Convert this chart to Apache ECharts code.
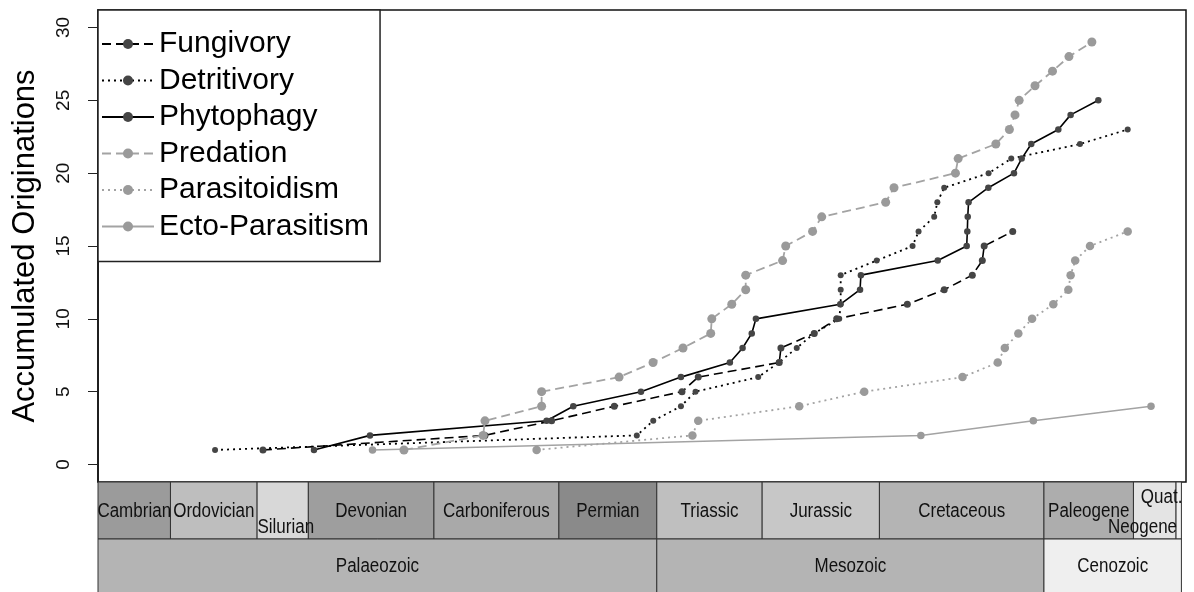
<!DOCTYPE html>
<html>
<head>
<meta charset="utf-8">
<script src="https://cdn.jsdelivr.net/npm/echarts@6/dist/echarts.min.js"></script>
<style>
  html, body { margin: 0; padding: 0; background: #fff; }
  #chart { width: 1194px; height: 592px; }
</style>
</head>
<body>
<div id="chart"></div>
<script>
// Ages (Ma) at which each guild's accumulated count steps up, with the count reached.
const fungivoryAge = [441.0, 334.4, 302.4, 272.3, 239.8, 232.0, 193.1, 192.3, 176.3, 165.5, 131.6, 113.9, 100.4, 95.6, 94.7, 81.0];
const fungivoryCount = [1, 2, 3, 4, 5, 6, 7, 8, 9, 10, 11, 12, 13, 14, 15, 16];

const detritivoryAge = [464.0, 261.5, 253.6, 240.3, 233.3, 203.2, 193.3, 184.7, 176.4, 164.3, 163.6, 163.6, 163.6, 146.3, 129.1, 126.2, 118.7, 117.2, 113.9, 92.6, 81.7, 48.7, 25.8];
const detritivoryCount = [1, 2, 3, 4, 5, 6, 7, 8, 9, 10, 11, 12, 13, 14, 15, 16, 17, 18, 19, 20, 21, 22, 23];

const phytophagyAge = [416.5, 389.6, 304.8, 292.0, 259.5, 240.3, 216.8, 210.7, 206.3, 204.3, 163.8, 154.3, 153.9, 117.0, 103.1, 102.8, 102.6, 102.2, 92.7, 80.4, 76.7, 72.1, 59.1, 53.2, 39.9];
const phytophagyCount = [1, 2, 3, 4, 5, 6, 7, 8, 9, 10, 11, 12, 13, 14, 15, 16, 17, 18, 19, 20, 21, 22, 23, 24, 25];

const predationAge = [373.3, 335.3, 334.4, 307.2, 307.2, 270.0, 253.7, 239.3, 226.0, 225.5, 215.9, 209.2, 209.2, 191.5, 190.0, 177.1, 172.7, 142.0, 138.0, 108.5, 107.2, 89.1, 82.6, 79.9, 77.9, 70.3, 61.9, 54.0, 43.0];
const predationCount = [1, 2, 3, 4, 5, 6, 7, 8, 9, 10, 11, 12, 13, 14, 15, 16, 17, 18, 19, 20, 21, 22, 23, 24, 25, 26, 27, 28, 29];

const parasitoidismAge = [309.6, 234.8, 232.0, 183.5, 152.3, 105.1, 88.2, 84.8, 78.3, 71.7, 61.5, 54.3, 53.2, 51.0, 43.9, 25.8];
const parasitoidismCount = [1, 2, 3, 4, 5, 6, 7, 8, 9, 10, 11, 12, 13, 14, 15, 16];

const ectoParasitismAge = [388.4, 125.1, 71.1, 14.6];
const ectoParasitismCount = [1, 2, 3, 4];

// Geological time scale (Ma)
const periodNames = ['Cambrian', 'Ordovician', 'Silurian', 'Devonian', 'Carboniferous', 'Permian', 'Triassic', 'Jurassic', 'Cretaceous', 'Paleogene', 'Neogene', 'Quat.'];
const periodStart = [541, 485.4, 443.8, 419.2, 358.9, 298.9, 251.9, 201.3, 145, 66, 23.03, 2.58];
const periodEnd = [485.4, 443.8, 419.2, 358.9, 298.9, 251.9, 201.3, 145, 66, 23.03, 2.58, 0];
const eraNames = ['Palaeozoic', 'Mesozoic', 'Cenozoic'];
const eraStart = [541, 251.9, 66];
const eraEnd = [251.9, 66, 0];

const yTicks = [0, 5, 10, 15, 20, 25, 30];

// ---- styling ----
const periodFill = ['#9b9b9b', '#bebebe', '#d8d8d8', '#9e9e9e', '#a9a9a9', '#8a8a8a', '#bfbfbf', '#c7c7c7', '#b4b4b4', '#adadad', '#e4e4e4', '#f0f0f0'];
const eraFill = ['#b4b4b4', '#b4b4b4', '#efefef'];
const labelShift = {
  'Silurian': { dy: 16, dx: 3 },
  'Neogene': { dy: 16, align: 'right' },
  'Quat.': { dy: -14, align: 'right' }
};
const PERIOD_ROW = 57;
const ERA_ROW = 60;
const scaleFont = '20px "Liberation Sans", Arial, sans-serif';
const SCALE_SQUEEZE = 0.85;

const DARK_LINE = '#000';
const DARK_PT = '#454545';
const LIGHT_LINE = '#a3a3a3';
const LIGHT_PT = '#9a9a9a';

function pairs(ages, counts) {
  return ages.map((a, i) => [a, counts[i]]);
}

function guild(name, ages, counts, line, pt, lineType, width, size) {
  return {
    name: name,
    type: 'line',
    data: pairs(ages, counts),
    symbol: 'circle',
    symbolSize: size,
    showAllSymbol: true,
    itemStyle: { color: pt },
    lineStyle: { color: line, width: width, type: lineType },
    emphasis: { disabled: true },
    z: 3
  };
}

// timescale bands: periods (row 0) then eras (row 1)
const bandNames = periodNames.concat(eraNames);
const bandFill = periodFill.concat(eraFill);
const bandData = periodStart.map((s, i) => [s, periodEnd[i], 0])
  .concat(eraStart.map((s, i) => [s, eraEnd[i], 1]));

function renderBand(params, api) {
  const cs = params.coordSys;
  const i = params.dataIndex;
  const row = api.value(2);
  const xa = api.coord([api.value(0), 0])[0];
  const xb = api.coord([api.value(1), 0])[0];
  const left = Math.max(Math.min(xa, xb), cs.x);
  const right = Math.min(Math.max(xa, xb), cs.x + cs.width);
  const top = cs.y + cs.height + (row === 0 ? 0 : PERIOD_ROW);
  const h = row === 0 ? PERIOD_ROW : ERA_ROW;
  const name = bandNames[i];
  const tweak = labelShift[name] || {};
  const align = tweak.align || 'center';
  const tx = (align === 'right' ? right + 1 : (left + right) / 2) + (tweak.dx || 0);
  const ty = top + (row === 0 ? 29 : 27) + (tweak.dy || 0);
  return {
    type: 'group',
    children: [
      {
        type: 'rect',
        shape: { x: left, y: top, width: right - left, height: h },
        style: { fill: bandFill[i], stroke: '#333', lineWidth: 1 }
      },
      {
        type: 'text',
        z2: 10,
        x: tx, y: ty,
        scaleX: SCALE_SQUEEZE,
        style: {
          text: name, x: 0, y: 0, align: align, verticalAlign: 'middle',
          font: scaleFont, fill: '#111'
        }
      }
    ]
  };
}

const chart = echarts.init(document.getElementById('chart'), null, { renderer: 'canvas' });

chart.setOption({
  animation: false,
  backgroundColor: '#fff',
  textStyle: { fontFamily: '"Liberation Sans", Arial, sans-serif' },
  grid: {
    left: 98, right: 8, top: 10, bottom: 110,
    outerBoundsMode: 'none',
    containLabel: false,
    show: true, borderColor: '#111', borderWidth: 1.5, backgroundColor: '#fff'
  },
  legend: {
    orient: 'vertical',
    left: 98, top: 10,
    backgroundColor: '#fff',
    borderColor: '#222', borderWidth: 1.5, borderRadius: 0,
    padding: [19, 11, 20, 3],
    itemGap: 6.5,
    itemWidth: 52,
    itemHeight: 12.5,
    selectedMode: false,
    textStyle: { fontSize: 30, color: '#000', lineHeight: 30, fontFamily: '"Liberation Sans", Arial, sans-serif' },
    data: ['Fungivory', 'Detritivory', 'Phytophagy', 'Predation', 'Parasitoidism', 'Ecto-Parasitism'],
    z: 20
  },
  xAxis: {
    type: 'value',
    inverse: true,
    min: -2.2,
    max: 520.2,
    axisLine: { show: false },
    axisTick: { show: false },
    axisLabel: { show: false },
    splitLine: { show: false }
  },
  yAxis: {
    type: 'value',
    min: -1.2,
    max: 31.2,
    position: 'left',
    name: 'Accumulated Originations',
    nameLocation: 'middle',
    nameGap: 57,
    nameTextStyle: { fontSize: 31, color: '#000', fontFamily: '"Liberation Sans", Arial, sans-serif' },
    axisLine: { show: true, onZero: false, lineStyle: { color: '#111', width: 1.5 } },
    axisTick: { show: true, length: 10, inside: false, customValues: yTicks, lineStyle: { color: '#222', width: 1 } },
    axisLabel: { show: true, rotate: 90, margin: 25, fontSize: 19, color: '#111', customValues: yTicks },
    splitLine: { show: false }
  },
  series: [
    guild('Fungivory', fungivoryAge, fungivoryCount, DARK_LINE, DARK_PT, [9, 5], 1.6, 7),
    guild('Detritivory', detritivoryAge, detritivoryCount, DARK_LINE, DARK_PT, [2, 4], 1.8, 6),
    guild('Phytophagy', phytophagyAge, phytophagyCount, DARK_LINE, DARK_PT, 'solid', 1.6, 6.5),
    guild('Predation', predationAge, predationCount, LIGHT_LINE, LIGHT_PT, [9, 5], 1.8, 9),
    guild('Parasitoidism', parasitoidismAge, parasitoidismCount, LIGHT_LINE, LIGHT_PT, [2, 4], 1.8, 8.5),
    guild('Ecto-Parasitism', ectoParasitismAge, ectoParasitismCount, LIGHT_LINE, LIGHT_PT, 'solid', 1.5, 7.5),
    {
      name: 'timescale',
      type: 'custom',
      renderItem: renderBand,
      data: bandData,
      clip: false,
      silent: true,
      z: 1
    }
  ]
});
</script>
</body>
</html>
